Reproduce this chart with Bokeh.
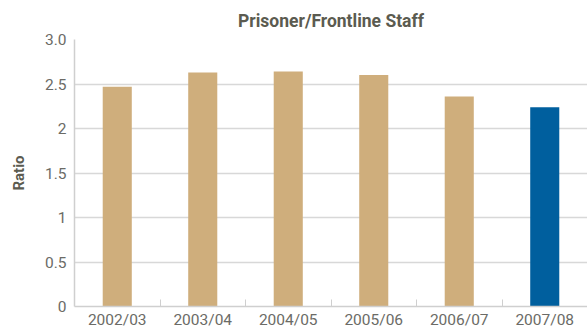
from bokeh.plotting import figure
from bokeh.models import FixedTicker, Range1d, ColumnDataSource
from bokeh.embed import file_html
from bokeh.resources import INLINE

categories = ["2002/03", "2003/04", "2004/05", "2005/06", "2006/07", "2007/08"]
ratios = [2.47, 2.63, 2.64, 2.60, 2.36, 2.24]
colors = ["#cfae7c", "#cfae7c", "#cfae7c", "#cfae7c", "#cfae7c", "#005f9e"]
y_ticks = [0, 0.5, 1, 1.5, 2, 2.5, 3.0]
y_tick_labels = ["0", "0.5", "1", "1.5", "2", "2.5", "3.0"]

xs = [i + 0.5 for i in range(len(categories))]
src = ColumnDataSource(dict(x=xs, top=ratios, color=colors))

p = figure(width=587, height=331, output_backend="svg", toolbar_location=None,
           x_range=Range1d(0, len(categories)), y_range=Range1d(0, 3.0),
           title="Prisoner/Frontline Staff",
           min_border_left=74, min_border_right=0, min_border_top=0, min_border_bottom=0)
p.outline_line_color = None
p.background_fill_color = "white"
p.border_fill_color = "white"

p.title.align = "center"
p.title.text_font = "Roboto"
p.title.text_font_size = "17.5px"
p.title.text_font_style = "bold"
p.title.text_color = "#5b5b50"
p.title.standoff = 17

p.vbar(x="x", top="top", width=0.34, color="color", source=src, line_color=None)

# y axis
p.yaxis.ticker = FixedTicker(ticks=y_ticks)
p.yaxis.major_label_overrides = {t: l for t, l in zip(y_ticks, y_tick_labels)}
p.yaxis.major_tick_line_color = None
p.yaxis.major_tick_out = 0
p.yaxis.major_tick_in = 0
p.yaxis.minor_tick_line_color = None
p.yaxis.axis_line_color = "#cfcfcf"
p.yaxis.axis_line_width = 1.5
p.yaxis.major_label_text_font = "Roboto"
p.yaxis.major_label_text_font_size = "15.5px"
p.yaxis.major_label_text_color = "#6b6b66"
p.yaxis.major_label_standoff = 8
p.yaxis.axis_label = "Ratio"
p.yaxis.axis_label_text_font = "Roboto"
p.yaxis.axis_label_text_font_size = "15px"
p.yaxis.axis_label_text_font_style = "bold"
p.yaxis.axis_label_text_color = "#5b5b50"
p.yaxis.axis_label_standoff = 14

# x axis
p.xaxis.ticker = FixedTicker(ticks=xs, minor_ticks=list(range(1, len(categories))))
p.xaxis.major_label_overrides = {x: c for x, c in zip(xs, categories)}
p.xaxis.major_tick_line_color = None
p.xaxis.major_tick_out = 0
p.xaxis.major_tick_in = 0
p.xaxis.minor_tick_line_color = "#cfcfcf"
p.xaxis.minor_tick_in = 7
p.xaxis.minor_tick_out = 0
p.xaxis.axis_line_color = "#cfcfcf"
p.xaxis.axis_line_width = 1.5
p.xaxis.major_label_text_font = "Roboto"
p.xaxis.major_label_text_font_size = "15.5px"
p.xaxis.major_label_text_color = "#6b6b66"
p.xaxis.major_label_standoff = 4

p.xgrid.grid_line_color = None
p.ygrid.grid_line_color = "#d8d8d8"
p.ygrid.grid_line_width = 1.5

open("out.html", "w").write(file_html(p, INLINE))
